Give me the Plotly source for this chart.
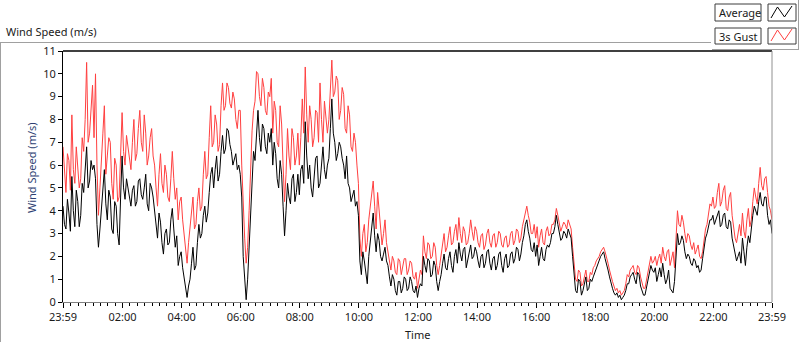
import plotly.graph_objects as go

# ---------------- data (one sample every 3 minutes, starting 23:59) ----------------
STEP_MIN = 3

gust = [
    6.8, 5.6, 4.8, 6.5, 6.2, 4.9, 8.2, 5.8, 5.2, 6.8, 6.0, 5.0, 5.4, 7.2, 6.6, 8.0, 10.5, 7.0, 7.4, 8.8,
    9.5, 7.2, 10.0, 6.0, 3.8, 5.0, 6.0, 7.4, 8.6, 5.6, 6.4, 7.2, 7.0, 5.2, 4.5, 6.3, 6.0, 4.4, 4.6, 6.4,
    8.3, 6.6, 6.0, 7.3, 6.8, 6.2, 5.8, 7.0, 8.0, 6.2, 6.5, 7.6, 8.4, 7.0, 6.6, 8.2, 7.4, 6.0, 6.4, 7.2,
    7.6, 6.4, 6.0, 5.0, 4.2, 5.6, 6.5, 5.2, 4.8, 6.0, 5.6, 4.6, 4.4, 5.4, 6.6, 5.4, 4.5, 5.0, 3.6, 4.4,
    4.6, 3.6, 3.0, 2.2, 1.7, 2.6, 3.3, 3.8, 4.6, 3.2, 3.4, 4.4, 5.0, 4.0, 4.2, 5.6, 6.6, 5.4, 5.6, 7.2,
    8.6, 6.8, 7.0, 8.2, 7.8, 6.6, 6.9, 8.6, 9.6, 8.4, 8.6, 9.6, 9.4, 8.7, 8.5, 9.2, 8.9, 8.0, 7.6, 8.4,
    8.4, 6.0, 4.2, 2.8, 1.7, 2.4, 4.0, 6.0, 7.5, 8.4, 8.8, 10.1, 10.0, 9.0, 8.6, 9.8, 9.4, 8.4, 8.2, 9.2,
    9.0, 9.8, 7.4, 8.8, 8.4, 7.0, 6.8, 8.6, 7.8, 6.0, 4.4, 5.6, 7.6, 6.4, 5.8, 7.6, 7.2, 6.0, 6.4, 7.4,
    6.0, 7.2, 8.9, 7.4, 10.3, 8.2, 7.0, 8.6, 8.0, 6.8, 7.2, 8.4, 8.3, 7.0, 9.6, 8.0, 7.0, 8.8, 8.2, 7.4,
    8.0, 9.6, 10.6, 9.0, 9.2, 9.9, 9.7, 8.0, 8.4, 9.4, 9.1, 7.6, 7.4, 8.6, 8.2, 6.8, 6.6, 7.4, 7.0, 6.0,
    5.2, 2.8, 2.0, 3.0, 3.4, 2.2, 2.6, 3.6, 4.2, 4.6, 5.3, 4.2, 3.2, 4.8, 4.0, 3.0, 2.5, 3.0, 3.6, 2.6,
    2.2, 1.6, 1.4, 2.0, 1.8, 1.3, 1.2, 1.9, 1.8, 1.2, 1.5, 1.9, 1.9, 1.2, 1.4, 1.8, 1.7, 1.1, 1.0, 1.3,
    0.6, 1.0, 1.4, 1.2, 2.9, 2.2, 1.9, 2.6, 2.5, 1.9, 2.0, 2.6, 2.4, 1.6, 1.2, 1.6, 2.0, 2.6, 3.0, 2.2,
    2.4, 2.9, 3.3, 2.5, 2.6, 3.1, 3.4, 2.7, 3.7, 3.0, 2.6, 3.3, 3.1, 2.5, 2.6, 3.0, 3.6, 3.1, 2.7, 3.3,
    3.1, 2.6, 2.4, 2.9, 3.0, 2.3, 2.5, 3.0, 3.2, 2.6, 2.4, 2.9, 3.0, 2.4, 2.6, 3.1, 3.0, 2.5, 2.4, 2.8,
    2.9, 2.4, 2.5, 3.0, 3.1, 2.5, 2.7, 3.2, 3.1, 2.6, 2.8, 3.3, 3.6, 4.0, 4.2, 3.8, 3.5, 3.0, 3.0, 3.4,
    2.8, 3.3, 2.4, 2.9, 3.2, 2.6, 2.5, 3.1, 3.3, 2.9, 3.0, 3.4, 3.4, 3.6, 4.1, 3.8, 3.5, 3.1, 3.3, 3.5,
    3.4, 3.2, 3.6, 3.4, 3.2, 2.4, 1.8, 1.0, 0.9, 1.4, 1.3, 0.7, 0.8, 1.2, 1.4, 0.9, 0.9, 1.3, 1.2, 1.5,
    1.6, 1.8, 1.9, 2.0, 2.2, 2.3, 2.4, 2.2, 2.0, 1.7, 1.4, 1.1, 0.9, 0.7, 0.5, 0.6, 0.4, 0.5, 0.3, 0.4,
    0.5, 0.8, 1.2, 1.1, 1.4, 1.5, 1.6, 1.3, 1.2, 1.6, 1.5, 1.1, 0.8, 0.6, 0.6, 1.0, 1.3, 1.6, 2.0, 1.7,
    1.8, 2.0, 1.6, 1.9, 2.1, 1.7, 2.4, 2.0, 1.8, 2.2, 2.3, 1.6, 1.9, 2.2, 1.5, 2.6, 4.0, 3.4, 3.3, 3.8,
    3.5, 3.0, 2.6, 3.0, 2.9, 2.5, 2.3, 2.6, 2.1, 2.3, 2.5, 2.0, 1.9, 2.2, 2.8, 3.2, 3.4, 3.9, 4.3, 4.2,
    4.6, 4.1, 4.2, 4.8, 5.2, 4.2, 4.4, 4.9, 5.1, 4.1, 4.0, 4.6, 4.8, 3.8, 3.2, 2.8, 2.6, 3.0, 3.4, 2.9,
    3.9, 3.1, 2.8, 3.6, 4.1, 3.3, 3.6, 4.4, 5.0, 4.6, 4.3, 5.2, 5.9, 5.1, 4.9, 5.4, 5.5, 4.8, 4.2, 4.0, 3.6,
]

average = [
    4.2, 3.4, 3.2, 4.5, 3.9, 3.1, 5.5, 4.0, 3.3, 4.9, 4.4, 3.3, 3.8, 5.2, 4.8, 5.6, 6.8, 5.0, 5.3, 6.2,
    5.8, 6.0, 5.4, 3.4, 2.4, 3.2, 4.0, 5.0, 5.8, 4.3, 3.6, 4.9, 4.6, 3.2, 3.0, 4.4, 4.2, 3.0, 2.5, 4.6,
    6.4, 5.0, 4.5, 5.4, 5.0, 4.4, 4.2, 4.9, 5.1, 4.2, 4.4, 5.3, 5.4, 4.7, 4.5, 5.0, 5.6, 4.3, 4.0, 5.2,
    5.0, 4.6, 4.0, 3.3, 2.8, 3.9, 3.5, 2.6, 2.1, 3.0, 3.2, 2.5, 2.6, 3.6, 4.1, 3.2, 2.4, 2.9, 1.6, 2.0,
    2.2, 1.5, 1.1, 0.7, 0.2, 0.7, 1.0, 1.7, 2.4, 1.4, 1.6, 2.6, 3.4, 2.8, 3.0, 3.8, 4.2, 3.5, 3.9, 4.8,
    5.6, 5.9, 5.0, 5.8, 6.4, 5.3, 5.6, 6.6, 7.3, 6.5, 6.7, 7.6, 7.5, 6.9, 6.6, 6.0, 6.2, 6.5, 5.8, 6.0,
    5.6, 4.6, 2.0, 0.8, 0.1, 1.0, 2.5, 4.0, 5.0, 6.6, 6.2, 7.4, 8.4, 7.2, 6.6, 7.8, 7.6, 6.8, 6.5, 7.4,
    7.0, 7.6, 6.0, 7.0, 6.5, 5.4, 5.0, 6.2, 5.6, 4.2, 2.9, 4.0, 5.2, 4.6, 4.3, 5.4, 5.6, 4.4, 4.8, 5.6,
    4.7, 5.8, 6.0, 5.2, 7.9, 6.4, 5.4, 6.0, 5.0, 4.6, 5.6, 6.3, 6.4, 5.0, 5.2, 6.0, 6.8, 5.8, 5.4, 6.0,
    6.3, 7.6, 8.9, 7.4, 7.0, 6.2, 6.5, 7.0, 6.8, 6.3, 6.0, 5.4, 6.4, 5.2, 5.0, 4.4, 4.6, 4.9, 4.2, 4.4,
    3.8, 1.8, 1.2, 2.2, 1.8, 1.2, 0.8, 2.0, 2.6, 3.4, 3.9, 2.9, 2.2, 3.0, 2.7, 2.0, 1.8, 2.1, 2.4, 1.8,
    1.6, 1.1, 0.7, 1.2, 1.0, 0.5, 0.3, 0.9, 0.9, 0.4, 0.6, 1.1, 1.0, 0.5, 0.6, 1.1, 0.9, 0.5, 0.4, 0.7,
    0.2, 0.6, 0.8, 0.7, 2.0, 1.6, 1.3, 1.9, 1.8, 1.1, 1.2, 1.8, 1.6, 0.9, 0.5, 0.9, 1.2, 1.7, 2.1, 1.5,
    1.4, 1.9, 2.2, 1.6, 1.3, 2.0, 2.3, 1.7, 2.6, 2.1, 1.8, 2.3, 2.4, 1.5, 1.9, 2.2, 2.5, 1.9, 2.0, 2.4,
    2.2, 1.8, 1.5, 2.0, 2.1, 1.5, 1.7, 2.2, 2.3, 1.7, 1.4, 1.9, 2.0, 1.4, 1.6, 2.1, 2.2, 1.6, 1.3, 1.9,
    2.1, 1.5, 1.6, 2.1, 2.2, 1.7, 1.9, 2.4, 2.3, 1.8, 2.1, 2.6, 2.9, 3.4, 3.6, 3.1, 2.8, 2.3, 2.2, 2.6,
    2.0, 2.5, 1.6, 2.0, 2.4, 1.9, 1.8, 2.3, 2.5, 2.4, 2.6, 3.0, 3.0, 3.3, 3.8, 3.4, 3.1, 2.7, 2.8, 3.1,
    3.0, 2.8, 3.2, 3.0, 2.8, 2.0, 1.2, 0.5, 0.4, 1.0, 0.9, 0.3, 0.5, 0.9, 1.1, 0.5, 0.6, 1.0, 0.9, 1.1,
    1.3, 1.5, 1.7, 1.8, 2.0, 2.1, 2.2, 1.9, 1.7, 1.4, 1.1, 0.8, 0.6, 0.4, 0.3, 0.4, 0.2, 0.3, 0.1, 0.2,
    0.3, 0.5, 0.8, 0.8, 1.1, 1.2, 1.3, 1.0, 0.8, 1.3, 1.2, 0.7, 0.5, 0.3, 0.3, 0.6, 0.9, 1.3, 1.6, 1.4,
    1.3, 1.5, 0.9, 1.2, 1.5, 1.1, 1.7, 1.2, 0.8, 1.0, 1.4, 0.6, 0.5, 0.4, 0.9, 2.0, 3.0, 2.5, 2.6, 2.9,
    2.7, 2.2, 1.9, 2.1, 2.0, 1.7, 1.6, 1.9, 1.8, 1.5, 1.6, 1.3, 1.4, 1.9, 2.4, 2.8, 3.0, 3.4, 3.6, 3.6,
    3.8, 3.4, 3.6, 3.8, 4.0, 3.3, 3.4, 3.8, 3.9, 3.3, 3.2, 3.6, 3.5, 2.8, 2.4, 2.0, 1.8, 2.0, 2.2, 1.7,
    2.8, 2.2, 1.6, 2.4, 2.9, 2.6, 3.3, 3.8, 4.2, 4.0, 3.8, 4.4, 4.8, 4.3, 4.2, 4.6, 4.6, 3.8, 3.4, 3.6, 3.0,
]

tick_minutes = [0, 121, 241, 361, 481, 601, 721, 841, 961, 1081, 1201, 1321, 1440]
tick_labels = ["23:59", "02:00", "04:00", "06:00", "08:00", "10:00", "12:00",
               "14:00", "16:00", "18:00", "20:00", "22:00", "23:59"]
y_ticks = list(range(0, 12))

assert len(gust) == len(average)
times = [i * STEP_MIN for i in range(len(gust))]
minor_ticks = [1 + 15 * k for k in range(1, 96) if k % 8 != 0]

# ---------------- geometry helpers (pixel -> paper) ----------------
W, H = 800, 342
PL, PR, PT, PB = 63, 772, 51, 302


def px(x):
    return (x - PL) / (PR - PL)


def py(y):
    return (PB - y) / (PB - PT)


FONT = "Noto Sans"
TXT = "#1a1a1a"

fig = go.Figure()
fig.add_trace(go.Scatter(x=times, y=gust, mode="lines", name="3s Gust",
                         line=dict(color="#ff4040", width=1)))
fig.add_trace(go.Scatter(x=times, y=average, mode="lines", name="Average",
                         line=dict(color="#000000", width=1)))

shapes = []


def line(x0, y0, x1, y1, color, w=1):
    shapes.append(dict(type="line", xref="paper", yref="paper",
                       x0=px(x0), y0=py(y0), x1=px(x1), y1=py(y1),
                       line=dict(color=color, width=w)))


def rect(x0, y0, x1, y1, color="#3c3c3c"):
    shapes.append(dict(type="rect", xref="paper", yref="paper",
                       x0=px(x0), y0=py(y0), x1=px(x1), y1=py(y1),
                       line=dict(color=color, width=1), fillcolor="white"))


def zig(pts, color):
    d = "M " + " L ".join(f"{px(a):.5f},{py(b):.5f}" for a, b in pts)
    shapes.append(dict(type="path", xref="paper", yref="paper", path=d,
                       line=dict(color=color, width=1)))


# outer frame
line(0, 42.5, 711, 42.5, "#a0a0a0")
line(0.5, 42.5, 0.5, 342, "#a0a0a0")
line(712, 49.5, 799, 49.5, "#a0a0a0")
line(798.5, 0, 798.5, 49.5, "#a0a0a0")
# plot area border (top black, right gray)
line(PL, PT, PR, PT, "#000000", 1.5)
line(PR, PT, PR, PB, "#909090")
# legend
rect(715, 4, 761, 21)
rect(768, 4, 796, 21)
rect(715, 28, 761, 44)
rect(768, 28, 796, 44)
zig([(771, 18), (777.5, 7), (784.5, 17), (792, 6)], "#000000")
zig([(771, 41), (777.5, 30), (784.5, 40), (792, 29)], "#ff4040")

annotations = [
    dict(text="Wind Speed (m/s)", x=px(4), y=py(31), xanchor="left", yanchor="middle"),
    dict(text="Average", x=px(717), y=py(12.5), xanchor="left", yanchor="middle"),
    dict(text="3s Gust", x=px(717), y=py(36), xanchor="left", yanchor="middle"),
    dict(text="Time", x=px(417), y=py(334), xanchor="center", yanchor="middle"),
    dict(text="Wind Speed (m/s)", x=px(31), y=py(168), xanchor="center", yanchor="middle",
         textangle=-90, font=dict(family=FONT, size=11, color="#2e3f73")),
]
for a in annotations:
    a.update(xref="paper", yref="paper", showarrow=False)
    a.setdefault("font", dict(family=FONT, size=11, color=TXT))

fig.update_layout(
    width=W, height=H,
    margin=dict(l=PL, r=W - PR, t=PT, b=H - PB, pad=0),
    paper_bgcolor="white", plot_bgcolor="white",
    showlegend=False,
    shapes=shapes, annotations=annotations,
    font=dict(family=FONT, size=11, color=TXT),
)
fig.update_xaxes(
    range=[0, 1440], tickmode="array", tickvals=tick_minutes, ticktext=tick_labels,
    ticks="outside", ticklen=5, tickcolor="#000000", tickwidth=1,
    showgrid=False, zeroline=False, showline=True, linecolor="#808080", linewidth=1,
    tickfont=dict(family=FONT, size=11, color=TXT),
    minor=dict(tickmode="array", tickvals=minor_ticks, ticks="outside", ticklen=3,
               tickcolor="#000000", tickwidth=1, showgrid=False),
)
fig.update_yaxes(
    range=[0, 11], tickmode="array", tickvals=y_ticks,
    ticks="outside", ticklen=4, tickcolor="#000000",
    showgrid=False, zeroline=False, showline=True, linecolor="#000000", linewidth=1,
    tickfont=dict(family=FONT, size=11, color=TXT),
)

fig.write_html("out.html", config={"displayModeBar": False},
               post_script="document.body.style.margin='0';")
